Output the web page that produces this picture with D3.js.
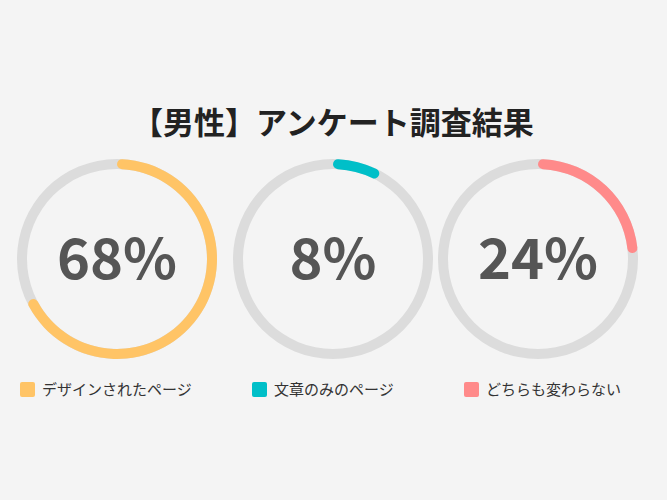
<!DOCTYPE html>
<html><head><meta charset="utf-8">
<script src="https://cdn.jsdelivr.net/npm/d3@7"></script>
<style>body{margin:0;background:#f4f4f4;}</style>
</head><body>
<svg id="c" width="667" height="500"></svg>
<script>
var title = "【男性】アンケート調査結果";
var labels = ["デザインされたページ","文章のみのページ","どちらも変わらない"];
var values = [68, 8, 24];
var colors = ["#ffc466","#00bfc8","#ff8a8a"];
var centersX = [117, 333, 538];
var legendX = [20, 252, 464];

var svg = d3.select("#c");
svg.append("rect").attr("width",667).attr("height",500).attr("fill","#f4f4f4");
svg.append("text").attr("x",333).attr("y",134).attr("text-anchor","middle")
  .attr("font-family","Noto Sans CJK JP").attr("font-weight","bold").attr("font-size",31)
  .attr("fill","#222").text(title);

var scale = d3.scaleLinear().domain([0,100]).range([0,2*Math.PI]);
var ring = d3.arc().innerRadius(90).outerRadius(100).startAngle(0);
var prog = d3.arc().innerRadius(90).outerRadius(100).startAngle(0).cornerRadius(5);

values.forEach(function(v,i){
  var g = svg.append("g").attr("transform","translate("+centersX[i]+",259)");
  g.append("path").attr("d", ring({endAngle:2*Math.PI})).attr("fill","#dcdcdc");
  g.append("path").attr("d", prog({endAngle:scale(v)})).attr("fill",colors[i]);
  g.append("text").attr("text-anchor","middle").attr("y",20)
    .attr("font-family","Noto Sans CJK JP").attr("font-weight","bold").attr("font-size",56)
    .attr("fill","#555").text(v+"%");
  var lg = svg.append("g").attr("transform","translate("+legendX[i]+",382)");
  lg.append("rect").attr("width",15).attr("height",15).attr("rx",2).attr("fill",colors[i]);
  lg.append("text").attr("x",22).attr("y",13).attr("font-family","Noto Sans CJK JP")
    .attr("font-size",15).attr("fill","#333").text(labels[i]);
});
</script>
</body></html>
